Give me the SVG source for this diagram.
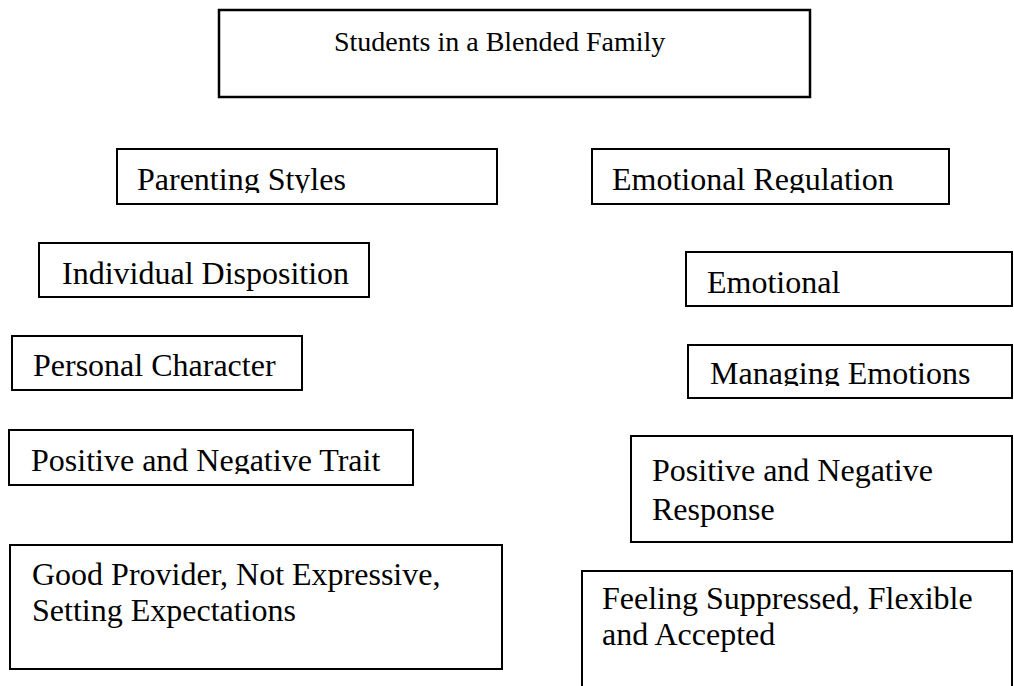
<svg xmlns="http://www.w3.org/2000/svg" width="1014" height="686" viewBox="0 0 1014 686">
<style>
.box{fill:#fff;stroke:#000;stroke-width:2}
.t{font-family:"Liberation Serif","Times New Roman",serif;font-size:32px;fill:#000}
</style>
<defs>
<clipPath id="c1"><rect x="117" y="149" width="380" height="44"/></clipPath>
<clipPath id="c2"><rect x="592" y="149" width="357" height="44"/></clipPath>
<clipPath id="c3"><rect x="689" y="346" width="323" height="40"/></clipPath>
<clipPath id="c4"><rect x="10" y="431" width="402" height="43"/></clipPath>
</defs>
<rect width="1014" height="686" fill="#fff"/>
<g id="connectors"></g>
<g id="n-title"><rect class="box" x="219" y="10" width="591" height="87" style="stroke-width:2.5"/><text class="t" x="334" y="51" style="font-size:28px">Students in a Blended Family</text></g>
<g id="n-parenting"><rect class="box" x="117" y="149" width="380" height="55"/><text class="t" x="137" y="190" clip-path="url(#c1)">Parenting Styles</text></g>
<g id="n-emoreg"><rect class="box" x="592" y="149" width="357" height="55"/><text class="t" x="612" y="190" clip-path="url(#c2)">Emotional Regulation</text></g>
<g id="n-individual"><rect class="box" x="39" y="243" width="330" height="54"/><text class="t" x="62" y="284">Individual Disposition</text></g>
<g id="n-emotional"><rect class="box" x="686" y="252" width="326" height="54"/><text class="t" x="707" y="293">Emotional</text></g>
<g id="n-personal"><rect class="box" x="12" y="336" width="290" height="54"/><text class="t" x="33" y="376">Personal Character</text></g>
<g id="n-managing"><rect class="box" x="688" y="345" width="324" height="53"/><text class="t" x="710" y="384" clip-path="url(#c3)">Managing Emotions</text></g>
<g id="n-trait"><rect class="box" x="9" y="430" width="404" height="55"/><text class="t" x="31" y="471" clip-path="url(#c4)">Positive and Negative Trait</text></g>
<g id="n-response"><rect class="box" x="631" y="436" width="381" height="106"/><text class="t" x="652" y="481">Positive and Negative</text><text class="t" x="652" y="520">Response</text></g>
<g id="n-provider"><rect class="box" x="10" y="545" width="492" height="124"/><text class="t" x="32" y="585">Good Provider, Not Expressive,</text><text class="t" x="32" y="621">Setting Expectations</text></g>
<g id="n-feeling"><rect class="box" x="582" y="571" width="430" height="130"/><text class="t" x="602" y="609">Feeling Suppressed, Flexible</text><text class="t" x="602" y="645">and Accepted</text></g>
</svg>
